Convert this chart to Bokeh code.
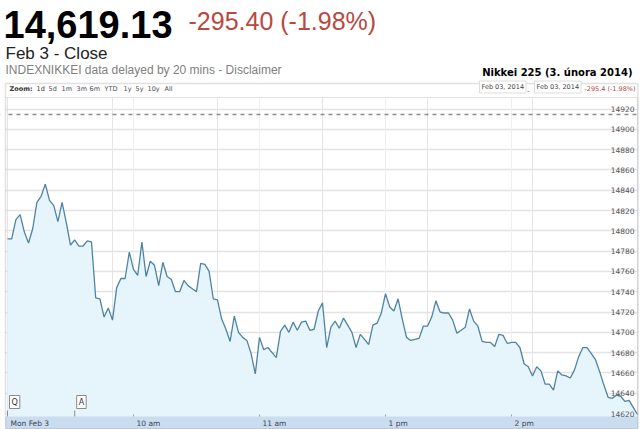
from bokeh.plotting import figure
from bokeh.models import Range1d, Grid, FixedTicker, BoxAnnotation, Span, Label
from bokeh.core.properties import value
from bokeh.embed import file_html
from bokeh.resources import INLINE

# ---------------- data ----------------
# trading minutes since 09:00 (lunch break 11:30-12:30 removed), sampled every 2 minutes
minutes = list(range(0, 301, 2))
prices = [
    14792, 14792, 14811, 14816, 14799, 14788, 14802, 14828, 14834, 14846,
    14830, 14825, 14809, 14828, 14808, 14786, 14791, 14785, 14785, 14790,
    14789, 14734, 14733, 14715, 14724, 14712, 14744, 14753, 14753, 14779,
    14762, 14756, 14789, 14755, 14770, 14766, 14746, 14769, 14755, 14752,
    14740, 14740, 14751, 14746, 14743, 14740, 14768, 14767, 14760, 14733,
    14732, 14713, 14703, 14691, 14716, 14700, 14695, 14692, 14679, 14659,
    14695, 14683, 14685, 14680, 14675, 14701, 14707, 14700, 14710, 14702,
    14710, 14711, 14702, 14703, 14721, 14729, 14685, 14705, 14711, 14704,
    14714, 14707, 14700, 14685, 14698, 14693, 14688, 14707, 14709, 14719,
    14738, 14725, 14721, 14733, 14713, 14695, 14692, 14693, 14694, 14706,
    14706, 14715, 14731, 14720, 14719, 14719, 14712, 14699, 14702, 14705,
    14723, 14711, 14706, 14691, 14690, 14690, 14686, 14698, 14697, 14689,
    14690, 14690, 14685, 14669, 14666, 14657, 14666, 14662, 14649, 14649,
    14643, 14662, 14658, 14657, 14655, 14663, 14676, 14685, 14685, 14679,
    14673, 14661, 14648, 14636, 14635, 14638, 14637, 14632, 14633, 14626,
    14619,
]
prev_close = 14914.53
last_text = "14,619.13"
change_text = "-295.40 (-1.98%)"
change_short = "-295.4 (-1.98%)"
date_text = "Feb 03, 2014"

x_tick_pos = [0, 60, 120, 180, 240]
x_tick_labels = ["Mon Feb 3", "10 am", "11 am", "1 pm", "2 pm"]
y_ticks = list(range(14620, 14921, 20))
y_tick_labels = [str(t) for t in y_ticks]
flag_times = [0, 32]
flag_letters = ["Q", "A"]
zoom_buttons = ["1d", "5d", "1m", "3m", "6m", "YTD", "1y", "5y", "10y", "All"]

# ---------------- layout (pixel geometry of the page) ----------------
W, H = 640, 429
PX_PER_MIN = 2.1          # horizontal scale
PX_PER_PT = 1.015         # vertical scale
X_ORIGIN_PX = 7           # page x of minute 0
Y_REF_VAL, Y_REF_PX = 14620, 413

X0 = -X_ORIGIN_PX / PX_PER_MIN
X1 = X0 + W / PX_PER_MIN
Y_MIN = Y_REF_VAL - (H - Y_REF_PX) / PX_PER_PT
Y_MAX = Y_REF_VAL + Y_REF_PX / PX_PER_PT


def xd(px):
    return X0 + px / PX_PER_MIN


def yd(py):
    return Y_REF_VAL + (Y_REF_PX - py) / PX_PER_PT


BOX_L, BOX_R, BOX_T = 5, 637.5, 83
ZB_B = 97
BAND_T = 416

p = figure(width=W, height=H, x_range=Range1d(X0, X1), y_range=Range1d(Y_MIN, Y_MAX),
           x_axis_location=None, y_axis_location=None, toolbar_location=None,
           output_backend="svg", min_border=0)
p.outline_line_color = None
p.background_fill_color = "white"
p.border_fill_color = "white"

p.add_layout(Grid(dimension=1, ticker=FixedTicker(ticks=y_ticks),
                  grid_line_color="#e3e3e3", grid_line_width=1.3))
p.add_layout(Grid(dimension=0, ticker=FixedTicker(ticks=x_tick_pos[1:]),
                  grid_line_color="#efefef", grid_line_width=1))

p.varea(x=minutes, y1=Y_MIN, y2=prices, fill_color="#e6f4fc")
p.line(minutes, prices, line_color="#4f83a3", line_width=1.3)

p.add_layout(Span(location=prev_close, dimension="width", line_color="#8a8a8a",
                  line_dash="4 4", line_width=1.5))

# zoom bar, navigator band, header area and margins
p.add_layout(BoxAnnotation(bottom=yd(ZB_B), fill_color="white", fill_alpha=1, line_color=None))
p.add_layout(Span(location=yd(ZB_B), dimension="width", line_color="#e2e2e2", line_width=1))
p.add_layout(BoxAnnotation(top=yd(BAND_T), fill_color="#cadcf0", fill_alpha=1, line_color=None))
p.add_layout(BoxAnnotation(bottom=yd(BOX_T), fill_color="white", fill_alpha=1, line_color=None))
p.add_layout(BoxAnnotation(right=xd(BOX_L), fill_color="white", fill_alpha=1, line_color=None))
p.add_layout(BoxAnnotation(left=xd(BOX_R), fill_color="white", fill_alpha=1, line_color=None))
p.add_layout(BoxAnnotation(left=xd(BOX_L), right=xd(BOX_R), top=yd(BOX_T), bottom=yd(428.2),
                           fill_alpha=0, line_color="#9a9a9a", line_width=1.5))

# x ticks + labels inside band
p.segment(x0=x_tick_pos[1:], y0=[yd(BAND_T)] * 4, x1=x_tick_pos[1:], y1=[yd(BAND_T - 2)] * 4,
          line_color="#9aa8b5", line_width=1, level="overlay")
p.text(x=x_tick_pos, y=[yd(422.5)] * len(x_tick_pos), text=x_tick_labels,
       text_font=value("DejaVu Sans"), text_font_size="7.5px", text_color="#3a4450",
       text_baseline="middle", text_align="left", x_offset=3, level="overlay")

# y labels inside plot area
p.text(x=[xd(634)] * len(y_ticks), y=y_ticks, text=y_tick_labels,
       text_font=value("DejaVu Sans"), text_font_size="7.5px", text_color="#555555",
       text_baseline="alphabetic", text_align="right", level="overlay")

# flags
p.segment(x0=flag_times, y0=[yd(BAND_T)] * 2, x1=flag_times, y1=[yd(410)] * 2,
          line_color="#8a8a8a", line_width=1, level="overlay")
for t, letter in zip(flag_times, flag_letters):
    p.add_layout(Label(x=t, y=yd(408), text=letter, text_font="DejaVu Sans",
                       text_font_size="8px", text_color="#333333", text_baseline="bottom",
                       x_offset=2, padding=2, border_line_color="#8a8a8a",
                       background_fill_color="white"))

# zoom bar texts
ZB_BASE = 92.5
p.add_layout(Label(x=xd(9), y=yd(ZB_BASE), text="Zoom:", text_font="DejaVu Sans",
                   text_font_size="6.5px", text_font_style="bold", text_color="#333333"))
zoom_x = [36, 48, 61, 76, 89, 104, 123, 135, 147, 164]
for zx, lab in zip(zoom_x, zoom_buttons):
    p.add_layout(Label(x=xd(zx), y=yd(ZB_BASE), text=lab, text_font="DejaVu Sans",
                       text_font_size="6.5px",
                       text_color="#333333" if lab == "1d" else "#4a4a55"))
for dx in (479, 534):
    p.add_layout(Label(x=xd(dx), y=yd(ZB_BASE), text=date_text, text_font="DejaVu Sans",
                       text_font_size="6.5px", text_color="#444444", padding=2,
                       border_line_color="#dddddd", background_fill_color="white"))
p.add_layout(Label(x=xd(528), y=yd(ZB_BASE), text="-", text_font="DejaVu Sans",
                   text_font_size="6.5px", text_color="#444444", text_align="center"))
p.add_layout(Label(x=xd(635), y=yd(ZB_BASE), text=change_short, text_font="DejaVu Sans",
                   text_font_size="6.5px", text_color="#b0484a", text_align="right"))

# header
p.add_layout(Label(x=xd(3), y=yd(37.5), text=last_text, text_font="Liberation Sans",
                   text_font_size="38px", text_font_style="bold", text_color="#000000"))
p.add_layout(Label(x=xd(188), y=yd(34), text=change_text, text_font="Liberation Sans",
                   text_font_size="25px", text_color="#b9493f"))
p.add_layout(Label(x=xd(5), y=yd(62), text="Feb 3 - Close", text_font="Liberation Sans",
                   text_font_size="17px", text_color="#222222"))
p.add_layout(Label(x=xd(5), y=yd(76), text="INDEXNIKKEI data delayed by 20 mins - Disclaimer",
                   text_font="Liberation Sans", text_font_size="12px", text_color="#808080"))
p.add_layout(Label(x=xd(632), y=yd(77.5), text="Nikkei 225 (3. února 2014)",
                   text_font="DejaVu Sans", text_font_size="10px", text_font_style="bold",
                   text_color="#000000", text_align="right"))

open("out.html", "w").write(file_html(p, INLINE))
